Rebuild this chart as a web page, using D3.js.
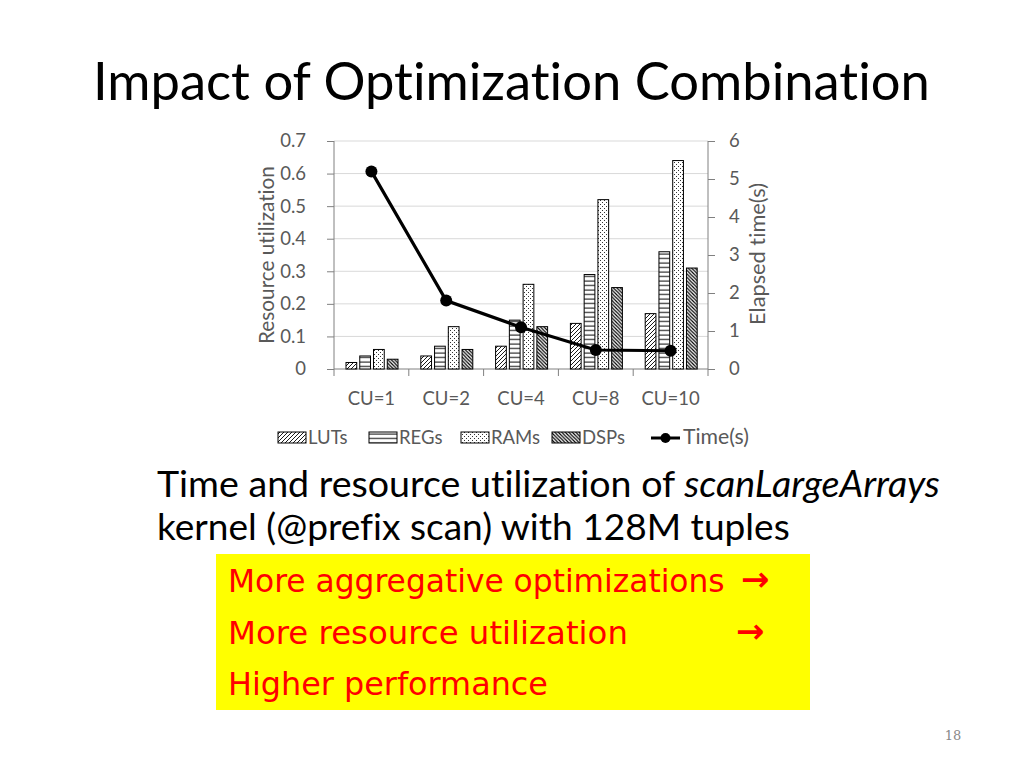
<!DOCTYPE html>
<html lang="en">
<head>
<meta charset="UTF-8">
<title>Impact of Optimization Combination</title>
<script src="https://cdn.jsdelivr.net/npm/d3@7"></script>
<style>
    body{margin:0;background:#fff;}
    svg{display:block;}
    text{font-variant-ligatures:none;}
</style>
</head>
<body>
<svg width="1024" height="768"></svg>
<script>
    // data
    var categories = ["CU=1","CU=2","CU=4","CU=8","CU=10"];
    var seriesNames = ["LUTs","REGs","RAMs","DSPs"];
    var luts = [0.02,0.04,0.07,0.14,0.17];
    var regs = [0.04,0.07,0.15,0.29,0.36];
    var rams = [0.06,0.13,0.26,0.52,0.64];
    var dsps = [0.03,0.06,0.13,0.25,0.31];
    var timeSec = [5.2,1.8,1.1,0.5,0.48];
    var leftTicks = [0,0.1,0.2,0.3,0.4,0.5,0.6,0.7];
    var rightTicks = [0,1,2,3,4,5,6];

    var series = [luts,regs,rams,dsps];
    var font = "Lato, 'Open Sans', sans-serif";
    var grey = "#595959";
    var fs = 18.5; // chart text size

    var svg = d3.select("svg");
    var defs = svg.append("defs");

    // fill patterns
    var p;
    p = defs.append("pattern").attr("id","pat0").attr("patternUnits","userSpaceOnUse")
        .attr("width",4).attr("height",4);
    p.append("rect").attr("width",4).attr("height",4).attr("fill","#fff");
    p.append("path").attr("d","M-1,1 l2,-2 M0,4 l4,-4 M3,5 l2,-2").attr("stroke","#000").attr("stroke-width",0.9);

    p = defs.append("pattern").attr("id","pat1").attr("patternUnits","userSpaceOnUse")
        .attr("width",4).attr("height",4.5);
    p.append("rect").attr("width",4).attr("height",4.5).attr("fill","#fff");
    p.append("path").attr("d","M0,2 H4").attr("stroke","#000").attr("stroke-width",1);

    p = defs.append("pattern").attr("id","pat2").attr("patternUnits","userSpaceOnUse")
        .attr("width",4).attr("height",4);
    p.append("rect").attr("width",4).attr("height",4).attr("fill","#fff");
    p.append("rect").attr("x",0).attr("y",0).attr("width",1).attr("height",1).attr("fill","#333");
    p.append("rect").attr("x",2).attr("y",2).attr("width",1).attr("height",1).attr("fill","#333");

    p = defs.append("pattern").attr("id","pat3").attr("patternUnits","userSpaceOnUse")
        .attr("width",3.5).attr("height",3.5);
    p.append("rect").attr("width",3.5).attr("height",3.5).attr("fill","#fff");
    p.append("path").attr("d","M-1,-1 l5.5,5.5 M-1,2.5 l2,2 M2.5,-1 l2,2").attr("stroke","#000").attr("stroke-width",1.2);

    // fit text to a given width by scaling font size
    function fit(sel, w) {
        var n = sel.node();
        var f = parseFloat(sel.attr("font-size"));
        var cur = n.getComputedTextLength();
        if (cur > 0) sel.attr("font-size", f * w / cur);
    }

    // title
    var title = svg.append("text").attr("x",93).attr("y",100)
        .attr("font-family",font).attr("font-size",48).attr("fill","#000")
        .text("Impact of Optimization Combination");
    fit(title, 837);

    // chart
    var x0 = d3.scaleBand().domain(categories).range([334,708]);
    var x1 = d3.scaleBand().domain(seriesNames).range([12,64]).paddingInner(0.22);
    var yL = d3.scaleLinear().domain([0,0.7]).range([369,141]);
    var yR = d3.scaleLinear().domain([0,6]).range([369,141]);

    var g = svg.append("g");

    // gridlines
    g.selectAll("line.grid").data(leftTicks.slice(1)).enter().append("line")
        .attr("x1",334).attr("x2",708)
        .attr("y1",d => yL(d)).attr("y2",d => yL(d))
        .attr("stroke","#d9d9d9").attr("stroke-width",1);

    var axL = g.append("g").attr("transform","translate(334,0)")
        .call(d3.axisLeft(yL).tickValues(leftTicks).tickFormat(d => d === 0 ? "0" : d3.format(".1f")(d)).tickSize(7).tickPadding(21));
    var axR = g.append("g").attr("transform","translate(708,0)")
        .call(d3.axisRight(yR).tickValues(rightTicks).tickFormat(d3.format("d")).tickSize(7).tickPadding(14));
    [axL,axR].forEach(function(a){
        a.select(".domain").attr("stroke","#808080");
        a.selectAll(".tick line").attr("stroke","#808080");
        a.selectAll("text").attr("font-family",font).attr("font-size",fs).attr("fill",grey);
    });
    axL.select(".domain").attr("d","M0,141V369");
    axR.select(".domain").attr("d","M0,141V369");

    // bottom axis with ticks at category borders
    g.append("line").attr("x1",334).attr("x2",708).attr("y1",369).attr("y2",369)
        .attr("stroke","#808080");
    var borders = categories.map(c => x0(c)).concat([x0.range()[1]]);
    g.selectAll("line.bt").data(borders).enter().append("line")
        .attr("x1",d => d).attr("x2",d => d).attr("y1",369).attr("y2",376)
        .attr("stroke","#808080");
    g.selectAll("text.cat").data(categories).enter().append("text")
        .attr("x",d => x0(d) + x0.bandwidth()/2).attr("y",405)
        .attr("text-anchor","middle").attr("font-family",font).attr("font-size",fs).attr("fill",grey)
        .text(d => d);

    // bars
    series.forEach(function(vals, si){
        g.selectAll("rect.s"+si).data(vals).enter().append("rect")
            .attr("x",(d,i) => x0(categories[i]) + x1(seriesNames[si]))
            .attr("width",x1.bandwidth())
            .attr("y",d => yL(d))
            .attr("height",d => yL(0) - yL(d))
            .attr("fill","url(#pat"+si+")")
            .attr("stroke","#000").attr("stroke-width",1);
    });

    // time line
    var line = d3.line().x((d,i) => x0(categories[i]) + x0.bandwidth()/2).y(d => yR(d));
    g.append("path").datum(timeSec).attr("d",line).attr("fill","none")
        .attr("stroke","#000").attr("stroke-width",3.2);
    g.selectAll("circle.t").data(timeSec).enter().append("circle")
        .attr("cx",(d,i) => x0(categories[i]) + x0.bandwidth()/2).attr("cy",d => yR(d))
        .attr("r",6).attr("fill","#000");

    // axis titles
    var tl = svg.append("text").attr("transform","translate(274,255) rotate(-90)")
        .attr("text-anchor","middle").attr("font-family",font).attr("font-size",fs).attr("fill",grey)
        .text("Resource utilization");
    fit(tl, 178);
    var tr = svg.append("text").attr("transform","translate(765,254) rotate(-90)")
        .attr("text-anchor","middle").attr("font-family",font).attr("font-size",fs).attr("fill",grey)
        .text("Elapsed time(s)");
    fit(tr, 142);

    // legend
    var legX = [278,369,461,552];
    seriesNames.forEach(function(n, i){
        svg.append("rect").attr("x",legX[i]).attr("y",432).attr("width",28).attr("height",11)
            .attr("fill","url(#pat"+i+")").attr("stroke","#000").attr("stroke-width",1);
        svg.append("text").attr("x",legX[i]+30).attr("y",444)
            .attr("font-family",font).attr("font-size",fs).attr("fill",grey).text(n);
    });
    svg.append("line").attr("x1",651).attr("x2",680).attr("y1",438).attr("y2",438)
        .attr("stroke","#000").attr("stroke-width",3);
    svg.append("circle").attr("cx",665.5).attr("cy",438).attr("r",5).attr("fill","#000");
    var lt = svg.append("text").attr("x",683).attr("y",444)
        .attr("font-family",font).attr("font-size",fs).attr("fill",grey).text("Time(s)");
    fit(lt, 66);

    // caption
    var cap1 = svg.append("text").attr("x",157).attr("y",497)
        .attr("font-family",font).attr("font-size",30).attr("fill","#000");
    cap1.append("tspan").text("Time and resource utilization of ");
    cap1.append("tspan").attr("font-style","italic").text("scanLargeArrays");
    fit(cap1, 783);
    var cap2 = svg.append("text").attr("x",157).attr("y",540)
        .attr("font-family",font).attr("font-size",30).attr("fill","#000")
        .text("kernel (@prefix scan) with 128M tuples");
    fit(cap2, 633);

    // yellow box
    svg.append("rect").attr("x",216).attr("y",554).attr("width",594).attr("height",156).attr("fill","#ffff00");
    var redFont = "'Comic Sans MS', 'DejaVu Sans', sans-serif";
    var lines = ["More aggregative optimizations","More resource utilization","Higher performance"];
    var lineW = [497,400,320];
    var arrowsX = [741,736];
    lines.forEach(function(t, i){
        var tx = svg.append("text").attr("x",228).attr("y",592 + i*51.5)
            .attr("font-family",redFont).attr("font-size",30).attr("fill","#ff0000").text(t);
        fit(tx, lineW[i]);
        if (i < 2) {
            svg.append("text").attr("x",arrowsX[i]).attr("y",591 + i*51.5)
                .attr("font-family","'DejaVu Sans', sans-serif").attr("font-size",34).attr("font-weight","bold")
                .attr("fill","#ff0000").text("\u2192");
        }
    });

    svg.append("text").attr("x",953).attr("y",740).attr("text-anchor","middle")
        .attr("font-family","'DejaVu Serif', serif").attr("font-size",13).attr("fill","#888").text("18");
</script>
</body>
</html>
